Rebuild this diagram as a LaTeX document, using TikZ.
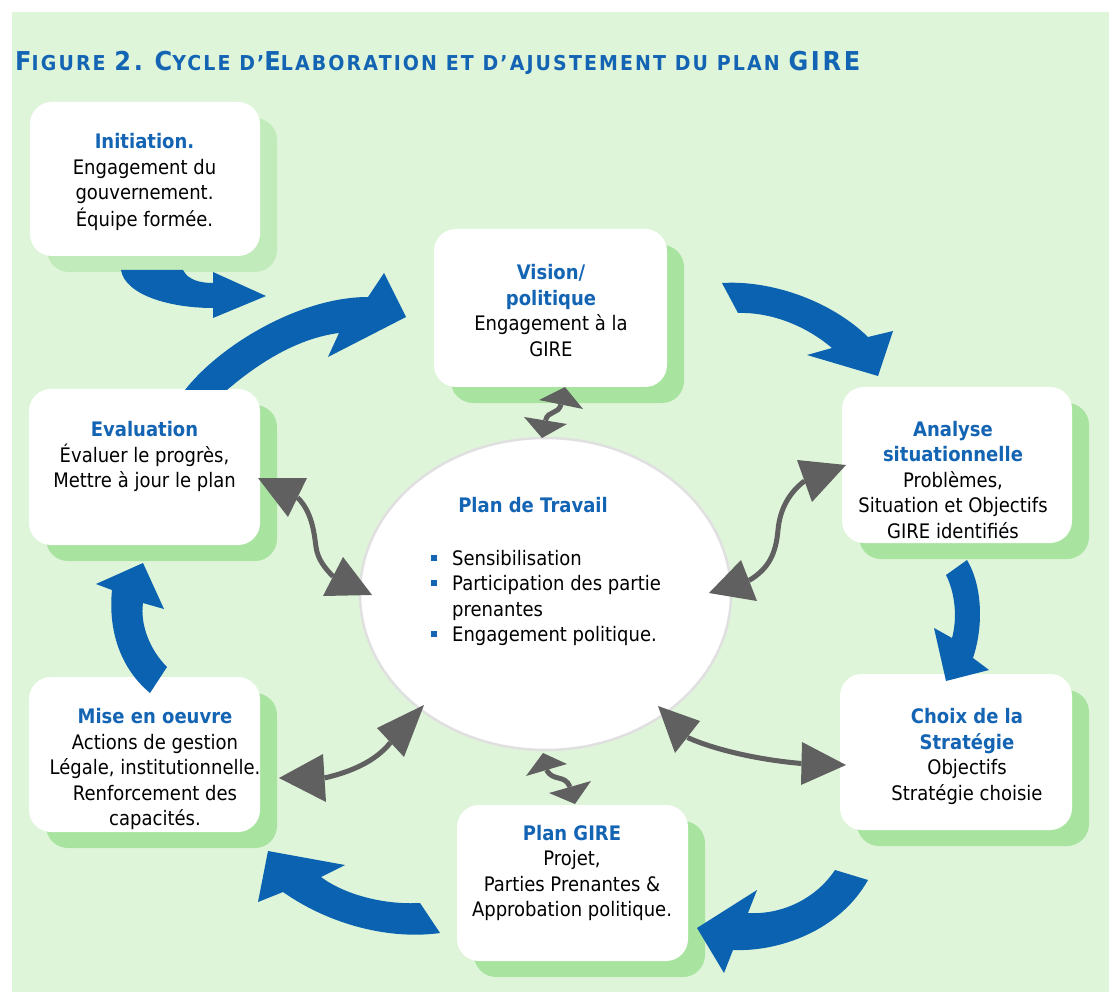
\documentclass[tikz,border=0pt]{standalone}
\usepackage{fontspec}
\usepackage{graphicx}
\setmainfont{DejaVu Sans}[FakeStretch=0.9]
\usetikzlibrary{shapes.geometric}
\definecolor{bg}{HTML}{DFF5DA}
\definecolor{shad}{HTML}{A8E4A0}
\definecolor{shadl}{HTML}{C1EBBA}
\definecolor{blu}{HTML}{0A62B0}
\definecolor{tblu}{HTML}{1464B4}
\definecolor{gr}{HTML}{606060}
\definecolor{ell}{HTML}{E0E0E0}
\tikzset{
  wbox/.style={rectangle, fill=white, rounded corners=22pt, inner sep=0pt},
  sbox/.style={rectangle, fill=shad, rounded corners=22pt, inner sep=0pt},
  sboxl/.style={rectangle, fill=shadl, rounded corners=22pt, inner sep=0pt},
  bluarr/.style={fill=blu},
  gline/.style={draw=gr, line width=5pt},
  ghead/.style={fill=gr},
  txt/.style={anchor=base, inner sep=0pt, font=\fontsize{20}{25.5}\selectfont},
}
\newcommand{\hd}[1]{\textcolor{tblu}{\bfseries #1}}
\newcommand{\TB}[1]{{\fontsize{26}{26}\selectfont #1}}
\newcommand{\TS}[1]{{\fontsize{20.5}{26}\selectfont #1}}
\newcommand{\blt}{\llap{\textcolor{tblu}{\rule[4.3pt]{6pt}{6pt}}\hspace{15pt}}}
\begin{document}
\begin{tikzpicture}[x=1pt,y=-1pt]
\useasboundingbox (0,0) rectangle (1109,992);
\fill[white] (0,0) rectangle (1109,992);
\fill[bg] (12,12) rectangle (1109,992);

% title
\node[anchor=base west, inner sep=0pt, text=tblu] (title) at (15,71)
  {\resizebox{845pt}{19.3pt}{\fontsize{20.5}{26}\selectfont\bfseries\addfontfeature{LetterSpace=10}\TB{F}\TS{IGURE} \TB{2.} \TB{C}\TS{YCLE D’}\TB{E}\TS{LABORATION ET D’AJUSTEMENT DU PLAN} \TB{GIRE}}};

% shadows
\node[sboxl, minimum width=230pt, minimum height=154pt] (inits) at (162,195) {};
\node[sbox, minimum width=233pt, minimum height=158pt] (viss) at (567.5,324) {};
\node[sbox, minimum width=230pt, minimum height=156pt] (anas) at (974,481) {};
\node[sbox, minimum width=232pt, minimum height=156pt] (chos) at (973,768) {};
\node[sbox, minimum width=231pt, minimum height=156pt] (plgs) at (589.5,899) {};
\node[sbox, minimum width=231pt, minimum height=155pt] (mies) at (161.5,770.5) {};
\node[sbox, minimum width=231pt, minimum height=156pt] (evas) at (161.5,483) {};

% boxes
\node[wbox, minimum width=230pt, minimum height=154pt] (init) at (145,179) {};
\node[wbox, minimum width=233pt, minimum height=158pt] (vis) at (550.5,308) {};
\node[wbox, minimum width=230pt, minimum height=156pt] (ana) at (957,465) {};
\node[wbox, minimum width=232pt, minimum height=156pt] (cho) at (956,752) {};
\node[wbox, minimum width=231pt, minimum height=156pt] (plg) at (572.5,883) {};
\node[wbox, minimum width=231pt, minimum height=155pt] (mie) at (144.5,754.5) {};
\node[wbox, minimum width=231pt, minimum height=156pt] (eva) at (144.5,467) {};

% ellipse
\node[ellipse, draw=ell, line width=2.5pt, fill=white, minimum width=371pt, minimum height=312pt, inner sep=0pt] (plan) at (545.5,594) {};

% texts
\node[txt] (tinit) at (144.5,149) {\begin{tabular}[t]{@{}c@{}}\hd{Initiation.}\\Engagement du\\gouvernement.\\Équipe formée.\end{tabular}};
\node[txt] (tvis) at (551,280) {\begin{tabular}[t]{@{}c@{}}\hd{Vision/}\\\hd{politique}\\Engagement à la\\GIRE\end{tabular}};
\node[txt] (tana) at (953,436) {\begin{tabular}[t]{@{}c@{}}\hd{Analyse}\\\hd{situationnelle}\\Problèmes,\\Situation et Objectifs\\GIRE identifiés\end{tabular}};
\node[txt] (tcho) at (967,723.5) {\begin{tabular}[t]{@{}c@{}}\hd{Choix de la}\\\hd{Stratégie}\\Objectifs\\Stratégie choisie\end{tabular}};
\node[txt] (tplg) at (572,840) {\begin{tabular}[t]{@{}c@{}}\hd{Plan GIRE}\\Projet,\\Parties Prenantes \&\\Approbation politique.\end{tabular}};
\node[txt] (tmie) at (155,723.5) {\begin{tabular}[t]{@{}c@{}}\hd{Mise en oeuvre}\\Actions de gestion\\Légale, institutionnelle.\\Renforcement des\\capacités.\end{tabular}};
\node[txt] (teva) at (144.5,436) {\begin{tabular}[t]{@{}c@{}}\hd{Evaluation}\\Évaluer le progrès,\\Mettre à jour le plan\end{tabular}};

\node[txt] (tplan) at (533,512.7) {\hd{Plan de Travail}};
\begin{scope}
\clip (400,530) rectangle (659,660);
\node[txt, anchor=base west] (tlist) at (452,565) {\begin{tabular}[t]{@{}l@{}}\blt Sensibilisation\\\blt Participation des parties\\prenantes\\\blt Engagement politique.\end{tabular}};
\end{scope}

% blue cycle arrows
\fill[bluarr] (121,270) .. controls (125,295) and (170,308) .. (213,308) -- (213,318) -- (266,296) -- (213,272) -- (213,283) .. controls (200,283) and (188,280) .. (183,270) -- cycle;
\fill[bluarr] (185,390) .. controls (220,345) and (300,297) .. (368,297) -- (384,273) -- (406,317) -- (328,357) -- (339,333) .. controls (300,338) and (262,360) .. (227,390) -- cycle;
\fill[bluarr] (722,283) .. controls (770,280) and (830,300) .. (868,337) -- (893,331) -- (878,376) -- (807,355) -- (832,348) .. controls (805,325) and (770,312) .. (738,313) -- cycle;
\fill[bluarr] (946,575) .. controls (956,595) and (957,620) .. (952,638) -- (934,628) -- (946,681) -- (989,670) -- (973,658) .. controls (984,625) and (982,585) .. (967,560) -- cycle;
\fill[bluarr] (835,870) .. controls (815,900) and (780,915) .. (748,913) -- (757,890) -- (697,928) -- (724,973) -- (733,950) .. controls (780,952) and (840,930) .. (868,880) -- cycle;
\fill[bluarr] (420,903) .. controls (385,905) and (345,895) .. (321,877) -- (345,865) -- (268,851) -- (258,902) -- (283,892) .. controls (330,925) and (390,940) .. (440,933) -- cycle;
\fill[bluarr] (150,693) .. controls (120,668) and (108,630) .. (112,590) -- (96,584) -- (143,563) -- (164,609) -- (143,603) .. controls (140,625) and (150,650) .. (167,667) -- cycle;

% gray double arrows
% Vision <-> plan
\coordinate (g1a) at (561,404.5); \coordinate (g1b) at (545.5,420.5);
\draw[gline] (g1b) .. controls (548,410) and (558,415) .. (g1a);
\fill[ghead] (565,387) -- (539,400) -- (583,409) -- cycle;
\fill[ghead] (542,438) -- (524,417) -- (567,424) -- cycle;
% Evaluation <-> plan
\coordinate (g2a) at (297.5,497.5); \coordinate (g2b) at (333,576.5);
\draw[gline] (g2a) .. controls (312,512) and (314,532) .. (316,547) .. controls (318,560) and (325,568) .. (g2b);
\fill[ghead] (258,478) -- (307,478) -- (288,517) -- cycle;
\fill[ghead] (372,595) -- (323,596) -- (343,557) -- cycle;
% Analyse <-> plan
\coordinate (g3a) at (804.5,481); \coordinate (g3b) at (749,580.5);
\draw[gline] (g3a) .. controls (790,492) and (780,508) .. (778,530) .. controls (776,552) and (770,568) .. (g3b);
\fill[ghead] (846,465) -- (797,460) -- (812,502) -- cycle;
\fill[ghead] (709,593) -- (741,560) -- (757,601) -- cycle;
% plan <-> Choix
\coordinate (g4a) at (687.5,737.5); \coordinate (g4b) at (801.5,763.5);
\draw[gline] (g4a) .. controls (715,750) and (760,760) .. (g4b);
\fill[ghead] (846,765) -- (802,742) -- (801,785) -- cycle;
\fill[ghead] (658,706) -- (700,721) -- (675,753) -- cycle;
% plan <-> Plan GIRE
\coordinate (g5a) at (546.5,770); \coordinate (g5b) at (570,787);
\draw[gline] (g5a) .. controls (553,782) and (565,774) .. (g5b);
\fill[ghead] (543,753) -- (526,776) -- (567,764) -- cycle;
\fill[ghead] (575,804) -- (549,793) -- (591,781) -- cycle;
% Mise <-> plan
\coordinate (g6a) at (324.5,778); \coordinate (g6b) at (390.5,742.5);
\draw[gline] (g6a) .. controls (350,772) and (375,762) .. (g6b);
\fill[ghead] (279,778) -- (323,754) -- (326,802) -- cycle;
\fill[ghead] (424,705) -- (377,728) -- (404,757) -- cycle;
\end{tikzpicture}
\end{document}
